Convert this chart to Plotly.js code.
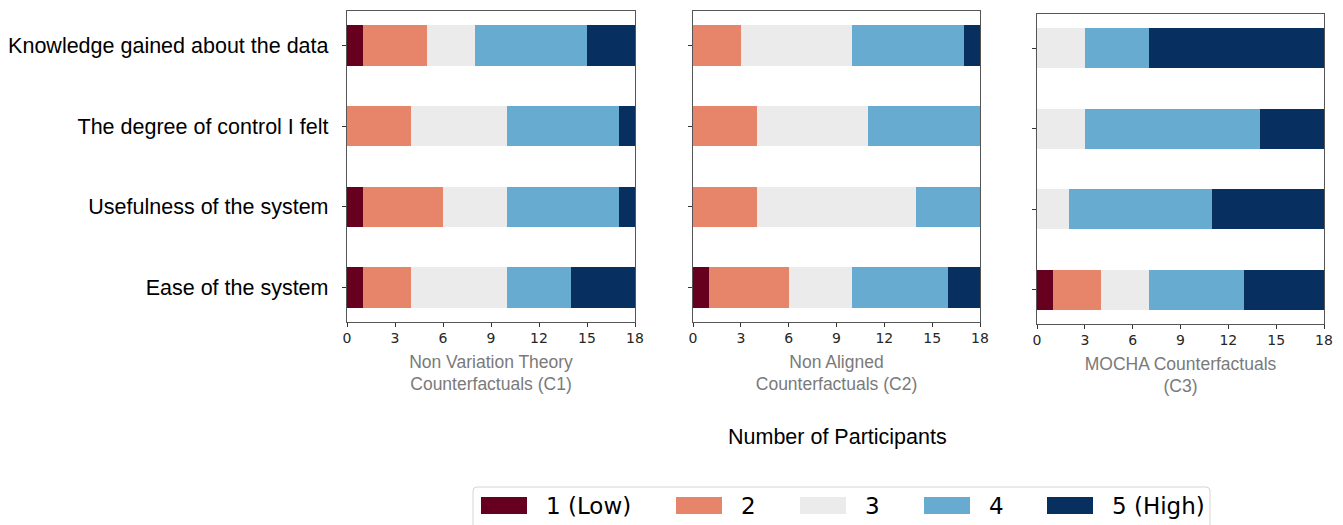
<!DOCTYPE html>
<html><head><meta charset="utf-8">
<script src="https://cdn.plot.ly/plotly-3.0.1.min.js"></script>
<style>html,body{margin:0;padding:0;background:#fff}#chart{width:1343px;height:525px}</style>
</head><body><div id="chart"></div>
<script>
// Categories (top to bottom)
const categories = ["Knowledge gained about the data", "The degree of control I felt", "Usefulness of the system", "Ease of the system"];
const levels = ["1 (Low)", "2", "3", "4", "5 (High)"];
const colors = ["#67001f", "#e7856a", "#ebebeb", "#67abd0", "#073060"];
const xTicks = [0, 3, 6, 9, 12, 15, 18];
const panelTitles = ["Non Variation Theory<br>Counterfactuals (C1)", "Non Aligned<br>Counterfactuals (C2)", "MOCHA Counterfactuals<br>(C3)"];
const xAxisLabel = "Number of Participants";

// counts per level, per category (category order as above)
const c1_level1 = [1, 0, 1, 1];
const c1_level2 = [4, 4, 5, 3];
const c1_level3 = [3, 6, 4, 6];
const c1_level4 = [7, 7, 7, 4];
const c1_level5 = [3, 1, 1, 4];

const c2_level1 = [0, 0, 0, 1];
const c2_level2 = [3, 4, 4, 5];
const c2_level3 = [7, 7, 10, 4];
const c2_level4 = [7, 7, 4, 6];
const c2_level5 = [1, 0, 0, 2];

const c3_level1 = [0, 0, 0, 1];
const c3_level2 = [0, 0, 0, 3];
const c3_level3 = [3, 3, 2, 3];
const c3_level4 = [4, 11, 9, 6];
const c3_level5 = [11, 4, 7, 5];

const panels = [
  [c1_level1, c1_level2, c1_level3, c1_level4, c1_level5],
  [c2_level1, c2_level2, c2_level3, c2_level4, c2_level5],
  [c3_level1, c3_level2, c3_level3, c3_level4, c3_level5]
];

const W = 1343, H = 525;
const px = v => v / W;
const py = v => 1 - v / H;

const traces = [];
panels.forEach((series, p) => {
  series.forEach((vals, i) => {
    traces.push({
      type: 'bar', orientation: 'h',
      x: vals, y: categories,
      name: levels[i],
      marker: {color: colors[i], line: {width: 0}},
      xaxis: p === 0 ? 'x' : 'x' + (p + 1),
      yaxis: p === 0 ? 'y' : 'y' + (p + 1),
      showlegend: false,
      hoverinfo: 'x+name'
    });
  });
});

const xDomains = [[347, 635], [693, 980], [1037, 1324]];
const yDomains = [[11, 322], [11, 322], [14, 324]];

const layout = {
  width: W, height: H,
  margin: {l: 0, r: 0, t: 0, b: 0},
  paper_bgcolor: '#fff', plot_bgcolor: '#fff',
  barmode: 'stack', bargap: 0.5,
  showlegend: false,
  shapes: [], annotations: []
};

for (let p = 0; p < 3; p++) {
  const xs = p === 0 ? 'xaxis' : 'xaxis' + (p + 1);
  const ys = p === 0 ? 'yaxis' : 'yaxis' + (p + 1);
  layout[xs] = {
    domain: [px(xDomains[p][0]), px(xDomains[p][1])],
    anchor: p === 0 ? 'y' : 'y' + (p + 1),
    range: [0, 18], tickvals: xTicks, ticktext: xTicks.map(String),
    showgrid: false, zeroline: false,
    showline: true, mirror: true, linecolor: '#555', linewidth: 1.2,
    ticks: 'outside', ticklen: 4, tickcolor: '#333',
    ticklabelstandoff: -1,
    tickfont: {family: 'DejaVu Sans', size: 14, color: '#262626'},
    title: {text: panelTitles[p], standoff: 10, font: {family: 'Liberation Sans, Arial', size: 17.5, color: '#7a7a7a'}}
  };
  layout[ys] = {
    domain: [py(yDomains[p][1]), py(yDomains[p][0])],
    anchor: p === 0 ? 'x' : 'x' + (p + 1),
    type: 'category', categoryarray: categories,
    range: [3.425, -0.425],
    showgrid: false, zeroline: false,
    showline: true, mirror: true, linecolor: '#555', linewidth: 1.2,
    ticks: 'outside', ticklen: 4, tickcolor: '#333',
    showticklabels: p === 0,
    ticklabelstandoff: 9,
    tickfont: {family: 'Liberation Sans, Arial', size: 21.5, color: '#000'}
  };
}

layout.annotations.push({
  xref: 'paper', yref: 'paper', x: px(837), y: py(437),
  text: xAxisLabel, showarrow: false, xanchor: 'center', yanchor: 'middle',
  font: {family: 'Liberation Sans, Arial', size: 21.5, color: '#000'}
});

// manual legend
layout.shapes.push({
  type: 'path', xref: 'paper', yref: 'paper',
  path: `M ${px(477)} ${py(487)} L ${px(1206)} ${py(487)} Q ${px(1210)} ${py(487)} ${px(1210)} ${py(491)} L ${px(1210)} ${py(540)} L ${px(473)} ${py(540)} L ${px(473)} ${py(491)} Q ${px(473)} ${py(487)} ${px(477)} ${py(487)} Z`,
  line: {color: '#d5d5d5', width: 1}, fillcolor: 'rgba(255,255,255,0.8)'
});
const swX = [481, 676, 800, 924, 1047];
levels.forEach((lv, i) => {
  layout.shapes.push({
    type: 'rect', xref: 'paper', yref: 'paper',
    x0: px(swX[i]), x1: px(swX[i] + 46), y0: py(514), y1: py(497),
    fillcolor: colors[i], line: {width: 0}
  });
  layout.annotations.push({
    xref: 'paper', yref: 'paper', x: px(swX[i] + 63), y: py(506),
    text: lv, showarrow: false, xanchor: 'left', yanchor: 'middle',
    font: {family: 'DejaVu Sans', size: 23, color: '#000'}
  });
});

Plotly.newPlot('chart', traces, layout, {displayModeBar: false, staticPlot: true});
</script></body></html>
